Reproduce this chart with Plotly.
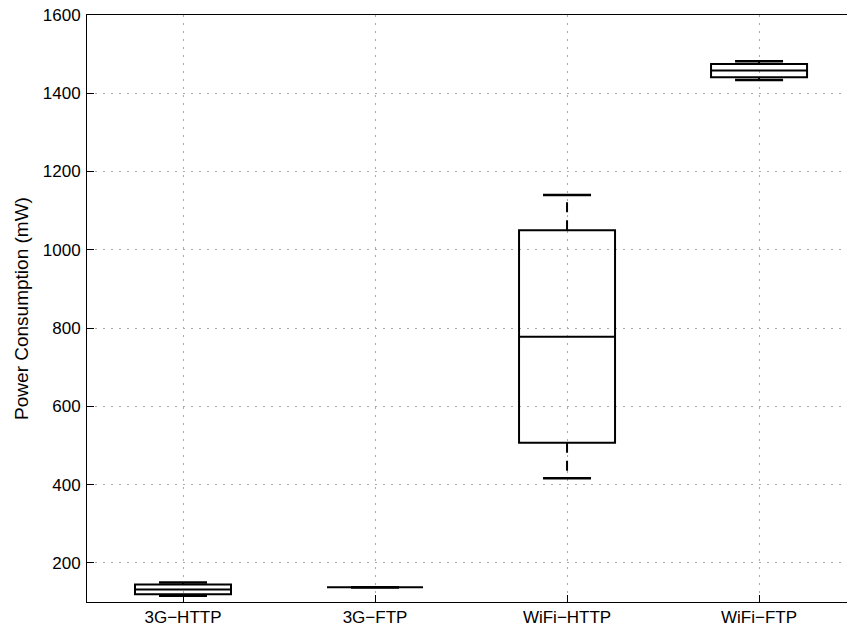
import plotly.graph_objects as go

categories = ["3G\u2212HTTP", "3G\u2212FTP", "WiFi\u2212HTTP", "WiFi\u2212FTP"]
positions = [1, 2, 3, 4]
lower_whisker = [116, 138, 416, 1434]
q1_values = [120, 138, 507, 1441]
median_values = [132, 138, 778, 1458]
q3_values = [145, 138, 1050, 1475]
upper_whisker = [150, 138, 1140, 1482]
y_ticks = [200, 400, 600, 800, 1000, 1200, 1400, 1600]

BOX_W = 0.5
CAP_W = 0.25
FONT = "Liberation Sans, Arial, Helvetica, sans-serif"

fig = go.Figure()

fig.add_trace(go.Box(
    x=positions, q1=q1_values, median=median_values, q3=q3_values,
    lowerfence=q1_values, upperfence=q3_values,
    width=BOX_W, whiskerwidth=0, boxpoints=False,
    line=dict(color="black", width=2), fillcolor="rgba(0,0,0,0)",
    showlegend=False, hoverinfo="skip",
))

wx, wy = [], []
cx, cy = [], []
for p, lo, a, b, hi in zip(positions, lower_whisker, q1_values, q3_values, upper_whisker):
    wx += [p, p, None, p, p, None]
    wy += [b, hi, None, a, lo, None]
    cx += [p - CAP_W / 2, p + CAP_W / 2, None, p - CAP_W / 2, p + CAP_W / 2, None]
    cy += [hi, hi, None, lo, lo, None]

fig.add_trace(go.Scatter(x=wx, y=wy, mode="lines",
                         line=dict(color="black", width=2, dash="10px,8px"),
                         showlegend=False, hoverinfo="skip"))
fig.add_trace(go.Scatter(x=cx, y=cy, mode="lines",
                         line=dict(color="black", width=2.5),
                         showlegend=False, hoverinfo="skip"))

fig.update_layout(
    width=847, height=635,
    margin=dict(l=87, r=0, t=15, b=33),
    paper_bgcolor="white", plot_bgcolor="white",
    font=dict(family=FONT, size=17, color="black"),
    xaxis=dict(
        range=[0.5, 4.458], tickmode="array", tickvals=positions, ticktext=categories,
        showline=True, linecolor="black", linewidth=1, mirror=True,
        ticks="inside", ticklen=7, tickcolor="black",
        showgrid=True, gridcolor="#a8a8a8", gridwidth=1, griddash="2px,6px",
        zeroline=False,
    ),
    yaxis=dict(
        range=[100, 1600], tickmode="array", tickvals=y_ticks,
        showline=True, linecolor="black", linewidth=1, mirror=False,
        ticks="inside", ticklen=7, tickcolor="black", ticklabelstandoff=2,
        showgrid=True, gridcolor="#a8a8a8", gridwidth=1, griddash="2px,6px",
        zeroline=False,
        title=dict(text="Power Consumption (mW)", font=dict(size=19), standoff=9),
    ),
)

fig.write_html("out.html")
